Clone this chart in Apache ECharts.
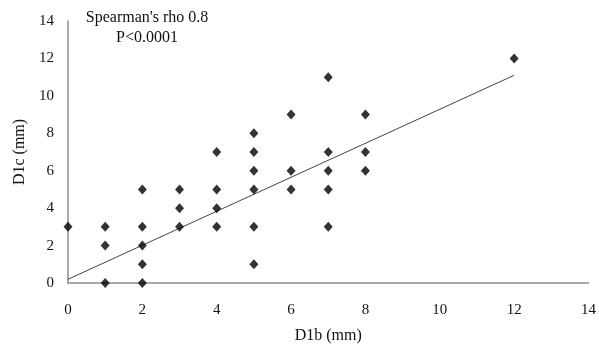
<!DOCTYPE html>
<html>
<head>
<meta charset="utf-8">
<script src="https://cdn.jsdelivr.net/npm/echarts@6/dist/echarts.min.js"></script>
<style>
  html, body { margin: 0; padding: 0; background: #fff; }
  #chart { width: 599px; height: 350px; }
</style>
</head>
<body>
<div id="chart"></div>
<script>
// D1b vs D1c measurements (mm)
const d1b = [0, 1, 1, 1, 2, 2, 2, 2, 2, 3, 3, 3, 4, 4, 4, 4, 5, 5, 5, 5, 5, 5, 6, 6, 6, 7, 7, 7, 7, 7, 8, 8, 8, 12];
const d1c = [3, 3, 2, 0, 5, 3, 2, 1, 0, 5, 4, 3, 7, 5, 4, 3, 8, 7, 6, 5, 3, 1, 9, 6, 5, 11, 7, 6, 5, 3, 9, 7, 6, 12];

// Linear trend line endpoints
const trendX = [0, 12];
const trendY = [0.2, 11.1];

const xTicks = [0, 2, 4, 6, 8, 10, 12, 14];
const yTicks = [0, 2, 4, 6, 8, 10, 12, 14];
const statLines = ["Spearman's rho 0.8", "P<0.0001"];

const font = '"Liberation Serif", "Times New Roman", serif';
const axisColor = '#8c8c8c';

const chart = echarts.init(document.getElementById('chart'), null, { renderer: 'canvas' });

chart.setOption({
  animation: false,
  backgroundColor: '#fff',
  grid: { left: 68, right: 9, top: 21, bottom: 67, containLabel: false },
  graphic: [{
    type: 'text',
    x: 147,
    y: 8,
    style: {
      text: statLines.join('\n'),
      font: '16px ' + font,
      fill: '#111',
      align: 'center',
      verticalAlign: 'top',
      lineHeight: 20
    }
  }],
  xAxis: {
    type: 'value',
    min: xTicks[0],
    max: xTicks[xTicks.length - 1],
    interval: 2,
    name: 'D1b (mm)',
    nameLocation: 'middle',
    nameGap: 45,
    nameTextStyle: { fontFamily: font, fontSize: 16, color: '#111' },
    axisLine: { show: true, onZero: false, lineStyle: { color: axisColor, width: 1.5 } },
    axisTick: { show: false },
    splitLine: { show: false },
    axisLabel: { fontFamily: font, fontSize: 15, color: '#111', margin: 20 }
  },
  yAxis: {
    type: 'value',
    min: yTicks[0],
    max: yTicks[yTicks.length - 1],
    interval: 2,
    name: 'D1c (mm)',
    nameLocation: 'middle',
    nameGap: 40,
    nameRotate: 90,
    nameTextStyle: { fontFamily: font, fontSize: 16, color: '#111' },
    axisLine: { show: true, lineStyle: { color: axisColor, width: 1.5 } },
    axisTick: { show: false },
    splitLine: { show: false },
    axisLabel: { fontFamily: font, fontSize: 15, color: '#111', margin: 14 }
  },
  series: [
    {
      type: 'line',
      data: trendX.map((x, i) => [x, trendY[i]]),
      symbol: 'none',
      lineStyle: { color: '#444', width: 1 },
      z: 2
    },
    {
      type: 'scatter',
      data: d1b.map((x, i) => [x, d1c[i]]),
      symbol: 'diamond',
      symbolSize: [9, 10],
      itemStyle: { color: '#000' },
      z: 3
    }
  ]
});
</script>
</body>
</html>
